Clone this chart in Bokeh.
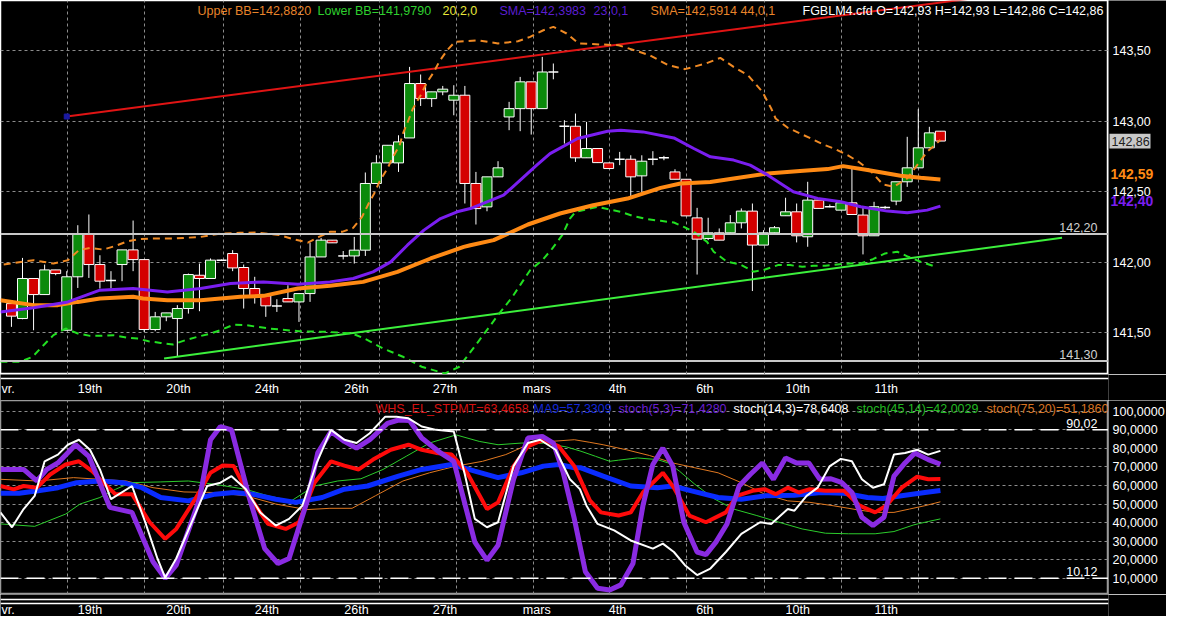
from bokeh.plotting import figure
from bokeh.layouts import column, row
from bokeh.models import Range1d, FixedTicker, Grid, Span, Label
from bokeh.embed import file_html
from bokeh.resources import INLINE
from bokeh.core.properties import value

# ---------------- price panel data (bar index 0..84) ----------------
opens = [141.707, 141.601, 141.885, 141.771, 141.946, 141.518, 141.897, 142.197, 141.984, 141.870,
         141.984, 142.088, 142.019, 141.523, 141.613, 141.601, 141.672, 141.908, 141.885, 142.015,
         142.062, 141.963, 141.814, 141.762, 141.690, 141.743, 141.719, 141.778, 142.038, 142.157,
         142.045, 142.045, 142.086, 142.559, 142.705, 142.705, 142.882, 143.268, 143.161, 143.209,
         143.150, 143.185, 142.559, 142.393, 142.606, 143.031, 143.090, 143.280, 143.090, 143.350,
         142.965, 142.965, 142.741, 142.807, 142.705, 142.731, 142.731, 142.613, 142.731, 142.741,
         142.641, 142.589, 142.315, 142.169, 142.209, 142.209, 142.280, 142.363, 142.122, 142.209,
         142.330, 142.358, 142.181, 142.441, 142.394, 142.370, 142.422, 142.335, 142.188, 142.389,
         142.434, 142.571, 142.670, 142.812, 142.930]
closes = [141.618, 141.885, 141.771, 141.946, 141.920, 141.897, 142.197, 141.984, 141.866, 141.868,
          142.088, 142.019, 141.523, 141.613, 141.641, 141.672, 141.913, 141.885, 142.015, 142.013,
          141.960, 141.814, 141.762, 141.691, 141.692, 141.719, 141.778, 142.038, 142.157, 142.138,
          142.046, 142.086, 142.559, 142.705, 142.830, 142.854, 143.268, 143.161, 143.209, 143.228,
          143.185, 142.559, 142.381, 142.606, 142.670, 143.090, 143.280, 143.090, 143.350, 143.352,
          142.967, 142.741, 142.807, 142.707, 142.665, 142.733, 142.606, 142.717, 142.733, 142.743,
          142.589, 142.329, 142.164, 142.209, 142.157, 142.280, 142.363, 142.122, 142.209, 142.245,
          142.358, 142.188, 142.441, 142.382, 142.395, 142.422, 142.339, 142.188, 142.394, 142.390,
          142.571, 142.670, 142.812, 142.918, 142.860]
highs = [141.720, 142.031, 141.885, 141.984, 141.946, 141.937, 142.263, 142.339, 142.050, 141.937,
         142.088, 142.296, 142.019, 141.648, 141.641, 141.696, 141.920, 141.991, 142.027, 142.020,
         142.086, 141.984, 141.897, 141.762, 141.738, 141.837, 141.778, 142.140, 142.173, 142.157,
         142.080, 142.180, 142.637, 142.760, 142.830, 142.901, 143.386, 143.332, 143.209, 143.251,
         143.256, 143.251, 142.641, 142.606, 142.717, 143.138, 143.315, 143.280, 143.457, 143.410,
         143.008, 143.055, 142.996, 142.807, 142.705, 142.783, 142.759, 142.759, 142.788, 142.755,
         142.660, 142.589, 142.386, 142.316, 142.240, 142.335, 142.382, 142.417, 142.228, 142.257,
         142.458, 142.417, 142.571, 142.441, 142.410, 142.422, 142.677, 142.387, 142.429, 142.400,
         142.571, 142.890, 143.086, 142.961, 142.930]
lows = [141.542, 141.596, 141.518, 141.771, 141.908, 141.518, 141.818, 141.889, 141.814, 141.814,
        141.866, 141.937, 141.506, 141.511, 141.582, 141.329, 141.636, 141.653, 141.885, 142.010,
        141.937, 141.672, 141.707, 141.613, 141.648, 141.719, 141.577, 141.719, 142.038, 142.138,
        142.020, 141.991, 142.045, 142.559, 142.705, 142.641, 142.882, 143.109, 143.102, 143.185,
        143.043, 142.417, 142.268, 142.362, 142.606, 142.937, 142.930, 142.906, 143.090, 143.298,
        142.842, 142.712, 142.741, 142.707, 142.665, 142.689, 142.464, 142.495, 142.689, 142.724,
        142.589, 142.329, 141.913, 142.157, 142.157, 142.209, 142.240, 141.796, 142.122, 142.209,
        142.330, 142.141, 142.110, 142.382, 142.390, 142.370, 142.339, 142.056, 142.188, 142.380,
        142.405, 142.535, 142.670, 142.812, 142.860]

sma23_x = [-1.0, 2.0, 5.1, 8.0, 11.0, 14.1, 17.1, 19.8, 22.8, 25.9, 28.8, 30.9, 32.7, 34.3, 35.8, 37.3,
           38.8, 40.3, 41.5, 44.5, 47.5, 48.7, 51.2, 53.9, 55.1, 57.1, 59.9, 61.7, 63.2, 65.3, 66.8,
           68.4, 70.7, 72.9, 75.0, 76.8, 79.2, 81.0, 82.8, 84.0]
sma23_y = [141.648, 141.677, 141.719, 141.802, 141.814, 141.790, 141.814, 141.849, 141.861, 141.845,
           141.861, 141.885, 141.932, 142.003, 142.121, 142.228, 142.310, 142.358, 142.381, 142.476,
           142.689, 142.771, 142.878, 142.930, 142.937, 142.925, 142.882, 142.807, 142.748, 142.725,
           142.689, 142.618, 142.500, 142.453, 142.429, 142.394, 142.363, 142.351, 142.370, 142.398]

sma44_x = [-1.0, 2.0, 4.2, 6.0, 8.0, 11.0, 11.9, 14.1, 17.1, 20.7, 22.8, 25.9, 28.8, 31.8, 34.9, 37.9,
           40.9, 41.5, 43.6, 46.7, 49.6, 52.6, 55.7, 58.7, 60.5, 63.2, 65.3, 68.4, 71.3, 73.8, 75.2,
           77.4, 80.4, 82.2, 84.0]
sma44_y = [141.731, 141.696, 141.696, 141.719, 141.743, 141.755, 141.743, 141.731, 141.731, 141.755,
           141.762, 141.814, 141.833, 141.861, 141.932, 142.027, 142.109, 142.121, 142.157, 142.268,
           142.346, 142.405, 142.452, 142.528, 142.559, 142.570, 142.595, 142.630, 142.647, 142.661,
           142.682, 142.654, 142.614, 142.599, 142.588]

bb_up_x = [-0.7, 2.0, 3.8, 5.1, 6.1, 7.1, 8.3, 9.4, 10.5, 11.5, 12.6, 14.6, 17.1, 18.9, 20.7, 22.2,
           24.3, 25.5, 26.8, 27.8, 28.8, 29.9, 30.9, 31.7, 32.3, 32.8, 33.3, 34.0, 34.5, 35.1, 35.4,
           35.9, 36.3, 37.0, 37.6, 38.2, 38.7, 39.4, 40.1, 42.2, 44.0, 45.8, 46.9, 48.1, 49.0, 50.2,
           51.3, 53.3, 54.9, 56.6, 57.7, 59.4, 60.9, 62.8, 64.1, 65.3, 66.6, 67.9, 68.7, 69.1, 70.2,
           71.3, 72.4, 73.4, 74.5, 75.6, 76.6, 77.7, 78.8, 79.8, 81.0, 81.9, 82.8, 84.0]
bb_up_y = [141.984, 142.015, 141.991, 142.015, 142.086, 142.102, 142.090, 142.116, 142.149, 142.164,
           142.168, 142.168, 142.180, 142.204, 142.209, 142.211, 142.192, 142.164, 142.140, 142.180,
           142.216, 142.216, 142.244, 142.322, 142.417, 142.488, 142.575, 142.665, 142.748, 142.830,
           142.913, 143.008, 143.090, 143.185, 143.280, 143.350, 143.426, 143.504, 143.564, 143.575,
           143.552, 143.568, 143.599, 143.646, 143.670, 143.623, 143.552, 143.545, 143.540, 143.497,
           143.469, 143.398, 143.370, 143.410, 143.450, 143.386, 143.327, 143.209, 143.091, 143.020,
           142.954, 142.914, 142.874, 142.836, 142.803, 142.760, 142.713, 142.647, 142.552, 142.536,
           142.595, 142.689, 142.784, 142.867]

bb_lo_x = [-1.0, 0.8, 1.9, 2.9, 3.8, 4.9, 6.0, 7.1, 8.0, 9.2, 10.5, 11.4, 12.4, 13.5, 14.6, 15.7,
           16.8, 17.8, 18.9, 20.1, 21.2, 23.2, 26.0, 28.4, 30.8, 31.9, 33.6, 35.4, 37.1, 39.2, 40.5,
           42.2, 44.0, 45.3, 46.0, 46.9, 48.0, 48.9, 49.8, 50.5, 51.0, 51.9, 53.0, 54.0, 55.1, 56.2,
           57.5, 58.7, 59.9, 60.8, 61.7, 62.9, 63.5, 64.7, 65.9, 67.1, 68.0, 69.3, 70.4, 71.5, 72.5,
           73.6, 74.7, 75.9, 76.8, 77.9, 79.0, 80.1, 81.1, 82.2, 83.4]
bb_lo_y = [141.294, 141.294, 141.329, 141.412, 141.483, 141.530, 141.495, 141.478, 141.478, 141.483,
           141.464, 141.459, 141.440, 141.428, 141.417, 141.447, 141.471, 141.490, 141.518, 141.558,
           141.554, 141.531, 141.511, 141.507, 141.495, 141.460, 141.389, 141.330, 141.259, 141.211,
           141.259, 141.436, 141.625, 141.755, 141.838, 141.944, 142.015, 142.097, 142.192, 142.310,
           142.358, 142.374, 142.393, 142.376, 142.358, 142.329, 142.306, 142.294, 142.282, 142.251,
           142.216, 142.145, 142.075, 142.004, 141.985, 141.933, 141.945, 141.980, 141.980, 141.968,
           141.975, 141.975, 141.985, 141.992, 141.992, 142.022, 142.063, 142.075, 142.039, 142.004,
           141.973]

trend_red_x = [5.0, 99.2]
trend_red_y = [143.034, 143.998]
trend_green_x = [13.8, 95.0]
trend_green_y = [141.318, 142.174]
levels = [142.20, 141.30]
level_labels = ["142,20", "141,30"]

price_ticks = [141.5, 142.0, 142.5, 143.0, 143.5]
price_tick_labels = ["141,50", "142,00", "142,50", "143,00", "143,50"]
last_close = 142.86
last_close_label = "142,86"
sma44_last = 142.59
sma44_label = "142,59"
sma23_last = 142.40
sma23_label = "142,40"

day_grid = [5.06, 12.03, 19.17, 26.13, 33.27, 40.24, 47.2, 54.07, 61.03, 68.08, 75.05, 82.0]
day_pos = [7.1, 15.1, 23.1, 31.2, 39.2, 47.5, 54.8, 62.7, 71.1, 79.1]
day_labels = ["19th", "20th", "24th", "26th", "27th", "mars", "4th", "6th", "10th", "11th"]
first_day_label = "vr."

# ---------------- oscillator data ----------------
st5_x = [-1.0, 1.1, 2.3, 3.2, 4.2, 5.8, 7.0, 8.9, 10.9, 12.8, 13.9, 14.9, 17.0, 18.0, 18.9, 19.9, 21.5,
         22.9, 24.1, 25.1, 26.7, 27.7, 28.9, 30.1, 31.2, 32.4, 34.0, 35.0, 36.0, 37.1, 38.8, 40.0, 41.9,
         43.0, 44.0, 45.4, 46.7, 48.0, 49.0, 49.9, 50.9, 51.9, 53.0, 54.1, 55.1, 56.2, 57.1, 58.0, 58.9,
         59.8, 60.8, 62.0, 62.8, 63.7, 64.7, 65.8, 66.8, 67.9, 68.9, 70.0, 71.0, 72.1, 73.1, 74.1, 75.1,
         76.0, 76.9, 77.9, 78.9, 79.8, 80.8, 81.7, 82.9, 84.0]
st5_y = [68.6, 68.6, 62.4, 68.6, 72.1, 81.9, 75.7, 48.2, 45.5, 18.9, 10.0, 17.1, 52.6, 84.6, 91.7, 89.9,
         53.5, 26.0, 18.0, 20.7, 50.8, 77.5, 89.0, 83.7, 80.1, 84.6, 93.4, 95.2, 94.9, 85.5, 77.5, 73.0,
         29.5, 19.8, 27.8, 63.3, 85.5, 86.4, 82.8, 66.8, 42.0, 13.6, 4.7, 3.8, 6.5, 18.0, 49.1, 71.3,
         80.1, 70.4, 40.2, 24.2, 22.8, 29.5, 39.3, 59.7, 65.9, 72.1, 63.3, 74.8, 72.1, 72.1, 63.3, 63.6,
         61.5, 56.2, 42.9, 38.4, 42.9, 65.0, 72.1, 77.5, 73.9, 71.4]

st14_x = [-1.0, 0.05, 1.1, 2.1, 3.0, 4.2, 5.1, 6.1, 7.1, 8.0, 9.0, 10.9, 12.1, 13.2, 13.9, 14.9, 16.3,
          17.7, 18.9, 19.9, 21.2, 22.5, 23.9, 25.1, 26.3, 27.6, 28.9, 30.1, 31.2, 32.4, 33.8, 34.8, 35.9,
          37.1, 38.4, 40.0, 41.0, 41.9, 43.0, 44.0, 45.4, 46.7, 47.8, 49.2, 50.5, 51.4, 52.0, 53.0, 54.5,
          56.0, 58.0, 58.9, 59.9, 60.9, 62.0, 63.2, 64.6, 66.0, 67.7, 68.7, 70.2, 70.8, 71.9, 72.9, 74.0,
          75.0, 76.0, 76.9, 77.9, 78.9, 79.8, 80.8, 81.9, 82.9, 84.0]
st14_y = [45.5, 37.5, 47.3, 54.4, 73.0, 76.6, 81.9, 84.6, 79.2, 68.6, 52.6, 59.7, 40.2, 20.7, 10.4, 20.7,
          40.2, 59.7, 61.5, 65.0, 57.9, 45.5, 38.4, 42.0, 49.1, 72.1, 89.9, 84.6, 82.8, 88.1, 97.0, 97.0,
          96.1, 91.7, 89.9, 89.0, 65.9, 42.0, 37.5, 40.2, 70.4, 82.8, 84.6, 79.2, 63.3, 58.0, 49.1, 39.3,
          35.8, 30.4, 26.0, 28.7, 24.2, 17.1, 11.8, 15.3, 24.2, 34.0, 40.2, 39.3, 47.3, 46.4, 54.4, 58.8,
          70.4, 74.3, 73.0, 63.3, 58.8, 60.6, 76.6, 77.5, 79.2, 76.6, 78.6]

whs_x = [-1.0, 0.2, 1.1, 2.3, 3.5, 4.9, 6.1, 7.3, 8.3, 9.4, 10.9, 12.5, 13.9, 14.9, 16.6, 18.0, 19.1,
         20.1, 21.5, 23.2, 24.8, 26.0, 27.4, 28.9, 30.1, 31.4, 32.7, 34.3, 35.9, 37.1, 38.4, 39.8, 41.2,
         43.0, 44.0, 45.4, 46.7, 48.1, 49.5, 50.9, 52.3, 53.3, 54.9, 56.0, 57.1, 58.9, 59.9, 61.3, 62.8,
         64.6, 65.6, 67.0, 68.1, 69.1, 70.2, 71.2, 72.2, 73.6, 75.3, 76.7, 78.1, 79.1, 80.5, 81.9, 82.9,
         84.0]
whs_y = [59.7, 57.9, 59.7, 58.8, 65.9, 71.3, 73.0, 67.7, 61.5, 55.3, 55.3, 40.2, 31.3, 36.6, 52.6, 66.8,
         70.7, 70.4, 54.4, 39.3, 36.6, 40.2, 61.5, 73.0, 70.7, 68.6, 73.9, 79.2, 81.9, 79.2, 77.5, 76.6,
         66.8, 47.3, 50.9, 70.4, 81.0, 84.6, 81.0, 70.4, 52.0, 45.5, 43.8, 45.5, 56.2, 66.8, 58.8, 43.8,
         40.2, 45.5, 54.4, 57.1, 58.0, 55.3, 58.8, 56.2, 58.0, 57.1, 57.1, 49.1, 45.5, 49.1, 58.8, 64.7,
         63.3, 63.5]

ma9_x = [-1.0, 0.7, 2.4, 4.2, 5.9, 8.0, 10.1, 11.8, 13.5, 16.0, 18.4, 20.1, 21.8, 23.9, 25.7, 28.1,
         30.1, 32.2, 35.0, 37.1, 39.8, 41.9, 44.0, 46.1, 48.1, 49.5, 50.9, 51.5, 53.5, 56.0, 58.4, 59.8,
         61.5, 63.9, 66.0, 68.1, 70.8, 73.2, 75.3, 77.4, 78.8, 80.8, 82.6, 84.0]
ma9_y = [55.8, 55.8, 57.1, 58.8, 61.5, 62.4, 61.5, 58.8, 53.5, 51.7, 55.3, 56.2, 55.3, 52.6, 50.9, 53.5,
         58.0, 59.7, 65.0, 68.6, 71.3, 67.7, 64.2, 66.8, 70.4, 71.3, 69.5, 69.5, 65.0, 59.7, 58.8, 59.7,
         57.1, 53.5, 52.6, 54.4, 54.7, 56.2, 55.8, 53.5, 53.0, 54.7, 56.2, 57.3]

st45_x = [-1.0, 2.1, 4.9, 6.2, 8.0, 9.4, 10.8, 13.5, 16.0, 18.4, 21.2, 23.2, 25.3, 27.4, 29.5, 31.6,
          33.6, 35.7, 37.8, 40.2, 42.3, 44.0, 46.1, 48.1, 50.2, 51.5, 52.8, 54.1, 54.9, 56.6, 58.4, 59.4,
          60.4, 61.8, 63.6, 65.3, 67.4, 69.4, 71.5, 73.6, 75.7, 78.1, 79.8, 81.6, 82.9, 84.0]
st45_y = [39.3, 38.0, 44.6, 50.0, 53.5, 57.9, 61.5, 61.9, 62.4, 60.6, 57.9, 54.4, 51.7, 59.7, 62.4, 63.6,
          68.6, 75.7, 82.8, 87.2, 83.7, 81.9, 82.8, 82.8, 80.7, 78.4, 75.7, 73.0, 73.6, 74.8, 73.9, 72.1,
          67.7, 60.6, 52.6, 47.3, 43.8, 40.2, 36.6, 34.3, 34.0, 34.0, 35.2, 38.8, 40.6, 42.0]

st75_x = [-1.0, 2.4, 5.6, 8.0, 10.4, 12.8, 15.6, 18.4, 21.2, 23.9, 26.7, 28.8, 30.8, 32.9, 35.4, 37.8,
          40.2, 42.6, 44.7, 46.7, 48.8, 50.9, 52.3, 53.5, 55.6, 57.7, 59.8, 61.8, 63.9, 66.0, 68.1, 70.2,
          72.2, 74.3, 76.4, 78.1, 79.8, 81.2, 82.6, 84.0]
st75_y = [63.3, 62.4, 64.2, 63.3, 62.4, 58.8, 56.5, 56.2, 54.4, 50.0, 47.0, 47.7, 47.7, 54.4, 62.4, 66.8,
          70.4, 73.0, 76.6, 81.9, 83.7, 84.6, 83.2, 81.9, 79.2, 76.1, 72.1, 69.5, 66.8, 61.5, 55.3, 51.7,
          50.9, 49.1, 47.0, 45.5, 45.5, 47.3, 49.1, 51.2]

osc_ticks = [10, 20, 30, 40, 50, 60, 70, 80, 90, 100]
osc_tick_labels = ["10,0000", "20,0000", "30,0000", "40,0000", "50,0000", "60,0000", "70,0000",
                   "80,0000", "90,0000", "100,0000"]
osc_levels = [90.02, 10.12]
osc_level_labels = ["90,02", "10,12"]

# ---------------- styling ----------------
W = 1166
RB = 58
MW = W - RB
FONT = "Liberation Sans"
FS = "12.5px"
BG = "black"
GRIDC = "#8c8c8c"
GREEN = "#0b8a0b"
RED = "#d40000"

xr = Range1d(-0.99, 99.2)


def base_fig(h, yr, outline):
    f = figure(width=MW, height=h, x_range=xr, y_range=yr, title=None,
               x_axis_location=None, y_axis_location=None,
               toolbar_location=None, output_backend="svg",
               background_fill_color=BG, border_fill_color=BG,
               min_border_left=0, min_border_right=0, min_border_top=0, min_border_bottom=0,
               outline_line_color=outline, outline_line_width=1.5)
    f.grid.visible = False
    return f


def axis_fig(h, yr, ticks, labels):
    a = figure(width=RB, height=h, x_range=Range1d(0, RB), y_range=yr, title=None,
               x_axis_location=None, y_axis_location=None, toolbar_location=None,
               output_backend="svg", background_fill_color=BG, border_fill_color=BG,
               min_border_left=0, min_border_right=0, min_border_top=0, min_border_bottom=0,
               outline_line_color=None)
    a.grid.visible = False
    a.text(x=[4] * len(ticks), y=ticks, text=labels, text_color="white",
           text_font=value(FONT), text_font_size=FS, text_align="left", text_baseline="middle")
    return a


def add_grids(f, yticks):
    f.add_layout(Grid(dimension=0, ticker=FixedTicker(ticks=day_grid), grid_line_color=GRIDC,
                      grid_line_dash="3 3", grid_line_width=1))
    f.add_layout(Grid(dimension=1, ticker=FixedTicker(ticks=yticks), grid_line_color=GRIDC,
                      grid_line_dash="3 3", grid_line_width=1))


def lab(f, x, y, text, color, xu="screen", yu="screen", align="left", base="middle",
        size=FS, style="normal"):
    f.add_layout(Label(x=x, y=y, x_units=xu, y_units=yu, text=text, text_color=color,
                       text_font=FONT, text_font_size=size, text_font_style=style,
                       text_align=align, text_baseline=base))


# ---------------- price panel ----------------
pyr = Range1d(141.204, 143.857)
top = base_fig(374, pyr, "white")
add_grids(top, price_ticks)

bars = list(range(len(opens)))
bx, btop, bbot, bcol, dxs, dys = [], [], [], [], [], []
for i, (o, c) in enumerate(zip(opens, closes)):
    if abs(c - o) < 0.004:
        dxs.append(i)
        dys.append(o)
    else:
        bx.append(i)
        btop.append(max(o, c))
        bbot.append(min(o, c))
        bcol.append(GREEN if c > o else RED)

top.segment(x0=bars, y0=lows, x1=bars, y1=highs, line_color="white", line_width=1)
top.vbar(x=bx, top=btop, bottom=bbot, width=0.9, fill_color=bcol, line_color="white", line_width=1)
top.segment(x0=[x - 0.45 for x in dxs], y0=dys, x1=[x + 0.45 for x in dxs], y1=dys,
            line_color="white", line_width=1.5)

for lv in levels:
    top.add_layout(Span(location=lv, dimension="width", line_color="#c8c8c8", line_width=2))

top.line(trend_green_x, trend_green_y, line_color="#3cf03c", line_width=2)
top.line(trend_red_x, trend_red_y, line_color="#e01414", line_width=2)
top.scatter([trend_red_x[0]], [trend_red_y[0]], marker="square", size=5, color="#1a1aa0")

top.line(bb_up_x, bb_up_y, line_color="#f08a24", line_width=2, line_dash="7 5")
top.line(bb_lo_x, bb_lo_y, line_color="#22e022", line_width=2, line_dash="7 5")
top.line(sma44_x, sma44_y, line_color="#ff8a14", line_width=4)
top.line(sma23_x, sma23_y, line_color="#7a1ef0", line_width=3)

ty = 364
lab(top, 197, ty, "Upper BB=142,8820", "#e8842a")
lab(top, 317, ty, "Lower BB=141,9790", "#2fd02f")
lab(top, 442, ty, "20,2,0", "#e8e83a")
lab(top, 499, ty, "SMA=142,3983", "#5b1ed0")
lab(top, 593, ty, "23,0,1", "#5b1ed0")
lab(top, 650, ty, "SMA=142,5914  44,0,1", "#e8842a")
lab(top, 802, ty, "FGBLM4.cfd O=142,93 H=142,93 L=142,86 C=142,86", "white")

for lv, lt in zip(levels, level_labels):
    lab(top, 1097, lv + 0.012, lt, "#d0d0d0", yu="data", align="right", base="bottom")

top_ax = axis_fig(374, pyr, price_ticks, price_tick_labels)
top_ax.quad(left=[1], right=[42], bottom=[last_close - 0.052], top=[last_close + 0.052],
            fill_color="#c8c8c8", line_color=None)
top_ax.text(x=[3], y=[last_close], text=[last_close_label], text_color="#202020",
            text_font=value(FONT), text_font_size=FS, text_align="left", text_baseline="middle")
top_ax.text(x=[2, 2], y=[sma44_last, sma23_last], text=[sma44_label, sma23_label],
            text_color=["#ff8a14", "#7a1ef0"], text_font=value(FONT), text_font_size="14px",
            text_font_style="bold", text_align="left", text_baseline="bottom")


# ---------------- label strips ----------------
def strip(h, line_ys, label_y):
    s = figure(width=W, height=h, x_range=xr, y_range=Range1d(0, h), title=None,
               x_axis_location=None, y_axis_location=None, toolbar_location=None,
               output_backend="svg", background_fill_color=BG, border_fill_color=BG,
               min_border_left=0, min_border_right=RB, min_border_top=0, min_border_bottom=0,
               outline_line_color=None)
    s.grid.visible = False
    for ly in line_ys:
        s.add_layout(Span(location=ly, dimension="width", line_color="white", line_width=1.5))
    s.text(x=day_pos, y=[label_y] * len(day_pos), text=day_labels, text_color="white",
           text_font=value(FONT), text_font_size=FS, text_align="center", text_baseline="middle")
    s.text(x=[-0.9], y=[label_y], text=[first_day_label], text_color="white",
           text_font=value(FONT), text_font_size=FS, text_align="left", text_baseline="middle")
    return s


strip1 = strip(26, [22], 12)
strip2 = strip(22, [17, 13], 7)

# ---------------- oscillator panel ----------------
oyr = Range1d(1.33, 105.7)
osc = base_fig(194, oyr, "#9a9a9a")
add_grids(osc, osc_ticks)
for lv in osc_levels:
    osc.add_layout(Span(location=lv, dimension="width", line_color="white", line_width=1.5,
                        line_dash="18 8"))

osc.line(st75_x, st75_y, line_color="#e07820", line_width=1)
osc.line(st45_x, st45_y, line_color="#2ccc2c", line_width=1)
osc.line(ma9_x, ma9_y, line_color="#0a2cff", line_width=5)
osc.line(whs_x, whs_y, line_color="#ff0a0a", line_width=4)
osc.line(st5_x, st5_y, line_color="#8a2be2", line_width=5)
osc.line(st14_x, st14_y, line_color="white", line_width=2)

oy = 186
lab(osc, 375, oy, "WHS_EL_STPMT=63,4658", "#d41010")
lab(osc, 533, oy, "MA9=57,3309", "#1428d8")
lab(osc, 618, oy, "stoch(5,3)=71,4280", "#6a1fd0")
lab(osc, 733, oy, "stoch(14,3)=78,6408", "white")
lab(osc, 856, oy, "stoch(45,14)=42,0029", "#22b822")
lab(osc, 986, oy, "stoch(75,20)=51,1860", "#d87420")
for lv, lt in zip(osc_levels, osc_level_labels):
    lab(osc, 1097, lv + 1.0, lt, "white", yu="data", align="right", base="bottom")

osc_ax = axis_fig(194, oyr, osc_ticks, osc_tick_labels)

layout = column(row(top, top_ax), strip1, row(osc, osc_ax), strip2)
open("out.html", "w").write(file_html(layout, INLINE))
